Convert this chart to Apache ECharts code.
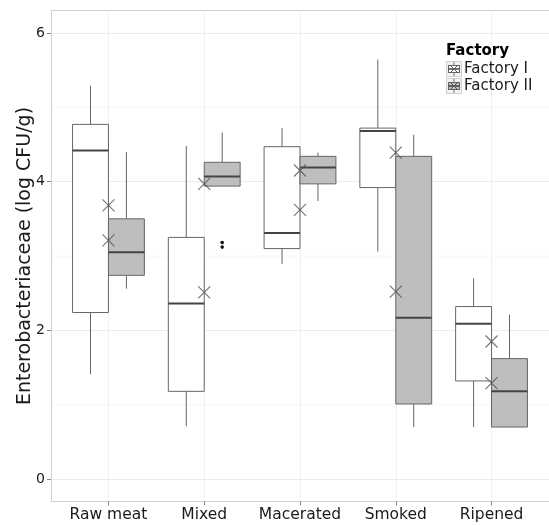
<!DOCTYPE html>
<html><head><meta charset="utf-8">
<script src="https://cdn.jsdelivr.net/npm/echarts@6/dist/echarts.min.js"></script>
<style>html,body{margin:0;padding:0;background:#fff}#c{width:549px;height:525px}</style>
</head><body><div id="c"></div>
<script>
var categories = ['Raw meat', 'Mixed', 'Macerated', 'Smoked', 'Ripened'];
// [lower whisker, Q1, median, Q3, upper whisker]
var factory1Box = [
  [1.41, 2.24, 4.42, 4.77, 5.29],
  [0.71, 1.18, 2.36, 3.25, 4.48],
  [2.89, 3.10, 3.31, 4.47, 4.72],
  [3.06, 3.92, 4.68, 4.72, 5.64],
  [0.70, 1.32, 2.09, 2.32, 2.70]
];
var factory2Box = [
  [2.56, 2.74, 3.05, 3.50, 4.40],
  [3.94, 3.94, 4.07, 4.26, 4.66],
  [3.74, 3.97, 4.19, 4.34, 4.39],
  [0.70, 1.01, 2.17, 4.34, 4.63],
  [0.70, 0.70, 1.18, 1.62, 2.21]
];
var factory1Mean = [3.68, 2.51, 3.62, 4.39, 1.85];
var factory2Mean = [3.21, 3.97, 4.15, 2.52, 1.29];
// outliers: [category index, value]
var factory2Outliers = [[1, 3.18], [1, 3.12]];
var yTicks = [0, 2, 4, 6];
var yMinorLines = [1, 3, 5];

var FONT = 'DejaVu Sans';
var X_MIN = 0.4, X_MAX = 5.6;
var BORDER = '#cfcfcf';
var chart = echarts.init(document.getElementById('c'), null, {renderer: 'canvas'});

function boxRender(offsetSign, fill) {
  return function (params, api) {
    var x = api.value(0);
    var unit = api.size([1, 0])[0];
    var off = offsetSign * 0.1875 * unit;
    var halfW = 0.1875 * unit;
    var pMin = api.coord([x, api.value(1)]);
    var pQ1 = api.coord([x, api.value(2)]);
    var pMed = api.coord([x, api.value(3)]);
    var pQ3 = api.coord([x, api.value(4)]);
    var pMax = api.coord([x, api.value(5)]);
    var cx = pMin[0] + off;
    var lineC = '#666666';
    return {
      type: 'group',
      children: [
        {type: 'line', shape: {x1: cx, y1: pMax[1], x2: cx, y2: pQ3[1]}, style: {stroke: lineC, lineWidth: 1}},
        {type: 'line', shape: {x1: cx, y1: pQ1[1], x2: cx, y2: pMin[1]}, style: {stroke: lineC, lineWidth: 1}},
        {type: 'rect', shape: {x: cx - halfW, y: pQ3[1], width: 2 * halfW, height: pQ1[1] - pQ3[1]}, style: {fill: fill, stroke: lineC, lineWidth: 1}},
        {type: 'line', shape: {x1: cx - halfW, y1: pMed[1], x2: cx + halfW, y2: pMed[1]}, style: {stroke: '#444444', lineWidth: 2}}
      ]
    };
  };
}

function svgIcon(fill) {
  var s = '<svg xmlns="http://www.w3.org/2000/svg" width="16" height="16" viewBox="0 0 16 16">' +
    '<rect x="0.5" y="0.5" width="15" height="15" fill="#f2f2f2" stroke="#d0d0d0"/>' +
    '<line x1="8" y1="1" x2="8" y2="15" stroke="#777" stroke-width="1"/>' +
    '<rect x="2.5" y="4.5" width="11" height="7" fill="' + fill + '" stroke="#666"/>' +
    '<line x1="2.5" y1="8" x2="13.5" y2="8" stroke="#444" stroke-width="1.5"/>' +
    '<line x1="4" y1="4" x2="12" y2="12" stroke="#555"/>' +
    '<line x1="12" y1="4" x2="4" y2="12" stroke="#555"/></svg>';
  return 'image://data:image/svg+xml;charset=utf-8,' + encodeURIComponent(s);
}

var xPos = categories.map(function (c, i) { return i + 1; });
var xMark = 'path://M0,0L10,10M10,0L0,10';

var option = {
  animation: false,
  backgroundColor: '#ffffff',
  textStyle: {fontFamily: FONT},
  grid: {left: 51, width: 500, top: 10.6, bottom: 23.6, show: false, containLabel: false},
  legend: {
    orient: 'vertical', left: 446, top: 61, padding: 0, itemWidth: 16, itemHeight: 16, itemGap: 1,
    textStyle: {fontFamily: FONT, fontSize: 15, color: '#1a1a1a', padding: [0, 0, 0, -3]},
    data: [
      {name: 'Factory I', icon: svgIcon('#ffffff')},
      {name: 'Factory II', icon: svgIcon('#bebebe')}
    ],
    selectedMode: false
  },
  graphic: [{type: 'text', x: 446, y: 51, style: {text: 'Factory', font: 'bold 15px "DejaVu Sans"', fill: '#000', verticalAlign: 'middle'}}],
  xAxis: [{
    type: 'value', min: X_MIN, max: X_MAX, position: 'bottom',
    axisLine: {show: true, onZero: false, lineStyle: {color: BORDER, width: 1}},
    axisTick: {show: true, length: 4, customValues: xPos, lineStyle: {color: '#888'}},
    axisLabel: {customValues: xPos, fontSize: 15.5, color: '#1a1a1a', margin: 6, fontFamily: FONT,
      formatter: function (v) { return categories[Math.round(v) - 1] || ''; }},
    splitLine: {show: true, lineStyle: {color: '#f0f0f0', width: 1}}
  }, {
    type: 'value', min: X_MIN, max: X_MAX, position: 'top',
    axisLine: {show: true, onZero: false, lineStyle: {color: BORDER, width: 1}},
    axisTick: {show: false}, axisLabel: {show: false}, splitLine: {show: false}
  }],
  yAxis: {
    type: 'value', min: -0.3, max: 6.3,
    name: 'Enterobacteriaceae (log CFU/g)', nameLocation: 'middle', nameGap: 16, nameMoveOverlap: false,
    nameTextStyle: {fontSize: 19, color: '#1a1a1a', fontFamily: FONT},
    axisLine: {show: true, onZero: false, lineStyle: {color: BORDER, width: 1}},
    axisTick: {show: true, length: 4, customValues: yTicks, lineStyle: {color: '#888'}},
    axisLabel: {customValues: yTicks, fontSize: 14, color: '#1a1a1a', margin: 6, fontFamily: FONT},
    splitLine: {show: true, lineStyle: {color: '#ececec', width: 1}}
  },
  series: [
    {
      name: 'minor', type: 'custom', silent: true,
      renderItem: function (params, api) {
        var a = api.coord([X_MIN, api.value(0)]);
        var b = api.coord([X_MAX, api.value(0)]);
        return {type: 'line', shape: {x1: a[0], y1: a[1], x2: b[0], y2: b[1]}, style: {stroke: '#f6f6f6', lineWidth: 1}};
      },
      encode: {y: 0},
      data: yMinorLines.map(function (v) { return [v]; }),
      z: 0
    },
    {
      name: 'Factory I', type: 'custom', renderItem: boxRender(-1, '#ffffff'),
      encode: {x: 0, y: [1, 2, 3, 4, 5]},
      data: factory1Box.map(function (b, i) { return [i + 1].concat(b); }),
      z: 2
    },
    {
      name: 'Factory II', type: 'custom', renderItem: boxRender(1, '#bebebe'),
      encode: {x: 0, y: [1, 2, 3, 4, 5]},
      data: factory2Box.map(function (b, i) { return [i + 1].concat(b); }),
      z: 2
    },
    {
      name: 'outliers', type: 'custom',
      renderItem: function (params, api) {
        var p = api.coord([api.value(0), api.value(1)]);
        var off = 0.1875 * api.size([1, 0])[0];
        return {type: 'circle', shape: {cx: p[0] + off, cy: p[1], r: 1.8}, style: {fill: '#111'}};
      },
      encode: {x: 0, y: 1},
      data: factory2Outliers.map(function (o) { return [o[0] + 1, o[1]]; }),
      z: 3
    },
    {
      name: 'mean1', type: 'scatter', symbol: xMark, symbolSize: 12,
      itemStyle: {color: 'none', borderColor: '#555', borderWidth: 1.2},
      data: factory1Mean.map(function (v, i) { return [i + 1, v]; }), z: 4, silent: true
    },
    {
      name: 'mean2', type: 'scatter', symbol: xMark, symbolSize: 12,
      itemStyle: {color: 'none', borderColor: '#555', borderWidth: 1.2},
      data: factory2Mean.map(function (v, i) { return [i + 1, v]; }), z: 4, silent: true
    }
  ]
};
chart.setOption(option);
</script></body></html>
